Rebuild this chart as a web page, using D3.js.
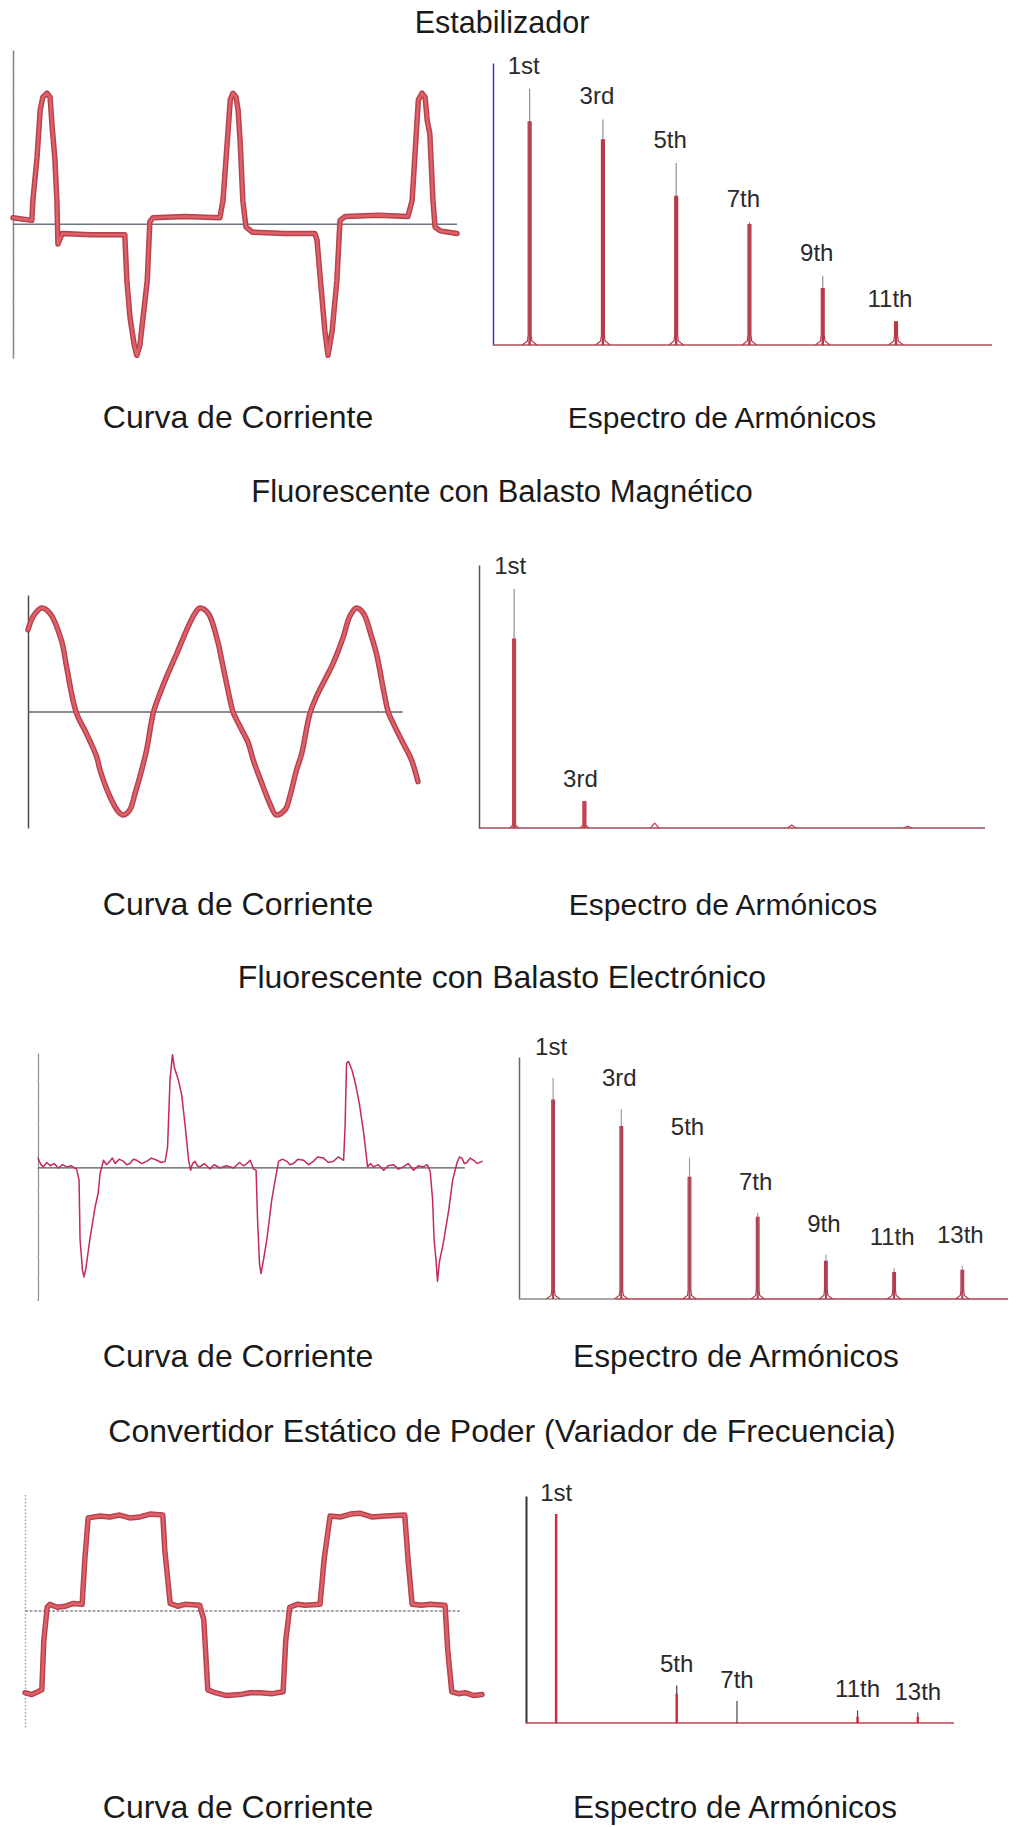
<!DOCTYPE html>
<html>
<head>
<meta charset="utf-8">
<script src="https://cdn.jsdelivr.net/npm/d3@7"></script>
<style>
  body { margin: 0; background: #fff; }
  svg { display: block; }
  text { font-family: "Liberation Sans", Arial, sans-serif; fill: #1a1a1a; }
  .hlabel { font-size: 24px; fill: #2a2a2a; }
</style>
</head>
<body>
<svg id="chart" width="1027" height="1827"></svg>
<script>

const titles = [
  'Estabilizador',
  'Fluorescente con Balasto Magnético',
  'Fluorescente con Balasto Electrónico',
  'Convertidor Estático de Poder (Variador de Frecuencia)'
];
const curveCaption = 'Curva de Corriente';
const spectrumCaption = 'Espectro de Armónicos';

// current waveforms: [electrical degrees, current per unit of peak]
const estabWave = [
  [0,0.05],[36,0.03],[38,0.18],[46,0.51],[52,0.87],[57,0.97],[65,1.00],[71,0.97],[75,0.74],
  [80,0.51],[84,0.18],[86,-0.15],[94,-0.07],[150,-0.08],[214,-0.08],[218,-0.43],[224,-0.71],
  [232,-0.92],[237,-1.00],[243,-0.92],[249,-0.71],[257,-0.43],[262,0.02],[268,0.05],[330,0.06],
  [396,0.05],[402,0.18],[410,0.62],[416,0.95],[421,1.00],[427,0.97],[431,0.87],[435,0.62],
  [440,0.18],[446,-0.02],[458,-0.06],[520,-0.07],[578,-0.07],[582,-0.12],[588,-0.40],[597,-0.81],
  [603,-1.00],[611,-0.81],[620,-0.43],[626,0.03],[636,0.06],[700,0.07],[756,0.06],[764,0.18],
  [770,0.56],[776,0.95],[783,1.00],[789,0.97],[793,0.79],[798,0.69],[804,0.18],[808,-0.02],
  [818,-0.05],[850,-0.07]
];

const magWave = [
  [0,0.79],[12,0.92],[31,1.00],[50,0.95],[77,0.68],[88,0.44],[110,0.00],[134,-0.21],[157,-0.43],
  [165,-0.56],[187,-0.81],[207,-0.96],[218,-0.99],[233,-0.94],[245,-0.78],[256,-0.62],[271,-0.37],
  [287,0.00],[302,0.18],[317,0.34],[340,0.56],[363,0.79],[382,0.95],[393,1.00],[412,0.95],
  [435,0.66],[443,0.50],[462,0.12],[469,0.00],[485,-0.14],[504,-0.30],[515,-0.46],[538,-0.72],
  [553,-0.88],[568,-0.99],[588,-0.94],[599,-0.81],[614,-0.56],[626,-0.40],[645,-0.01],[660,0.15],
  [679,0.31],[698,0.47],[721,0.72],[736,0.92],[751,1.00],[767,0.95],[786,0.72],[797,0.56],
  [816,0.15],[824,0.00],[839,-0.14],[858,-0.30],[877,-0.46],[892,-0.67]
];

const elecWave = [
  [0,0.09],[6,0.03],[11,0.01],[18,0.05],[25,0.02],[33,0.04],[42,0.00],[50,0.03],[59,0.01],
  [68,0.02],[79,-0.01],[84,-0.11],[86,-0.65],[91,-0.93],[94,-0.99],[98,-0.91],[106,-0.65],
  [117,-0.35],[123,-0.23],[127,-0.05],[134,0.07],[140,0.03],[147,0.06],[152,0.09],[158,0.04],
  [166,0.08],[175,0.06],[181,0.03],[188,0.04],[195,0.08],[202,0.07],[212,0.04],[222,0.06],
  [232,0.09],[243,0.07],[252,0.05],[260,0.06],[265,0.19],[270,0.80],[275,1.03],[279,0.91],
  [287,0.80],[294,0.66],[301,0.38],[308,0.07],[312,-0.02],[316,0.04],[321,0.06],[326,0.02],
  [331,0.01],[340,0.04],[352,-0.01],[360,0.03],[372,0.00],[385,0.02],[400,0.00],[412,0.05],
  [420,0.02],[427,0.04],[434,0.07],[441,-0.01],[446,-0.02],[449,-0.47],[453,-0.87],[456,-0.96],
  [461,-0.84],[468,-0.65],[478,-0.29],[485,-0.11],[492,0.06],[500,0.08],[509,0.06],[515,0.03],
  [522,0.04],[532,0.08],[543,0.07],[553,0.03],[563,0.06],[572,0.10],[584,0.09],[594,0.05],
  [604,0.06],[614,0.10],[625,0.07],[628,0.38],[631,0.95],[635,0.97],[642,0.89],[649,0.77],
  [657,0.59],[666,0.32],[674,0.01],[680,0.04],[686,0.01],[696,0.03],[707,-0.02],[716,0.02],
  [727,0.03],[737,-0.01],[747,0.01],[757,0.04],[768,-0.02],[778,0.02],[788,0.01],[796,0.03],
  [802,-0.03],[807,-0.29],[810,-0.65],[814,-0.84],[817,-1.03],[821,-0.85],[829,-0.68],
  [840,-0.38],[848,-0.11],[857,0.05],[862,0.10],[867,0.09],[872,0.04],[877,0.05],[884,0.09],
  [891,0.07],[898,0.04],[908,0.06]
];

const convWave = [
  [0,-0.86],[10,-0.88],[19,-0.85],[25,-0.83],[28,-0.31],[33,0.04],[37,0.07],[48,0.04],[60,0.05],
  [72,0.08],[85,0.07],[89,0.54],[94,0.98],[112,1.00],[126,0.99],[141,1.01],[156,0.98],[171,0.99],
  [186,1.02],[205,1.01],[208,0.64],[216,0.08],[227,0.05],[238,0.07],[260,0.06],[266,-0.09],
  [272,-0.83],[283,-0.86],[300,-0.89],[320,-0.88],[335,-0.86],[350,-0.86],[368,-0.87],[384,-0.85],
  [388,-0.31],[394,0.04],[405,0.07],[417,0.06],[439,0.07],[445,0.54],[454,1.00],[470,0.99],
  [484,1.02],[498,1.03],[516,0.99],[536,1.00],[565,1.01],[570,0.54],[576,0.07],[590,0.06],
  [603,0.07],[625,0.06],[629,-0.41],[635,-0.85],[645,-0.87],[655,-0.86],[668,-0.89],[680,-0.88]
];

// harmonic spectra: order, peak (% of fundamental), height of the red body, label
const estabOrders = [1, 3, 5, 7, 9, 11];
const estabPeak = [100, 88, 71, 48, 27, 9];
const estabRed = [87, 80, 58, 47, 22, 9];
const estabLabels = ['1st', '3rd', '5th', '7th', '9th', '11th'];

const magOrders = [1, 3];
const magPeak = [100, 11];
const magRed = [79, 11];
const magLabels = ['1st', '3rd'];
const magMinorOrders = [5, 8.9, 12.2];
const magMinorPeak = [2, 1.3, 0.8];

const elecOrders = [1, 3, 5, 7, 9, 11, 13];
const elecPeak = [100, 86, 64, 39, 20, 14, 15];
const elecRed = [90, 78, 55, 37, 17, 12, 13];
const elecLabels = ['1st', '3rd', '5th', '7th', '9th', '11th', '13th'];

const convOrders = [1, 5, 7, 11, 13];
const convPeak = [100, 18, 10.5, 6, 5];
const convRed = [100, 14, 0, 3, 3];
const convLabels = ['1st', '5th', '7th', '11th', '13th'];


const svg = d3.select('#chart');

class CurrentCurve {

  constructor(_config, _data) {
    this.config = _config;
    this.data = _data;
    this.initVis();
  }

  initVis() {
    let vis = this;
    const c = vis.config;

    vis.g = svg.append('g').attr('class', 'curve');

    vis.xScale = d3.scaleLinear().domain(c.xDomain).range(c.xRange);
    vis.yScale = d3.scaleLinear().domain(c.yDomain).range(c.yRange);

    // scope style vertical axis, no labels
    vis.yAxis = d3.axisLeft(vis.yScale)
      .tickSize(c.tickSize)
      .tickSizeOuter(0)
      .tickFormat('');
    if (c.tickSize > 0) vis.yAxis.ticks(c.ticks);
    else vis.yAxis.tickValues([]);

    vis.axisGroup = vis.g.append('g')
      .attr('transform', `translate(${c.xRange[0]},0)`)
      .call(vis.yAxis);
    vis.axisGroup.select('.domain')
      .attr('stroke', c.axisColor)
      .attr('stroke-width', c.axisWidth)
      .attr('stroke-dasharray', c.axisDash || null);
    vis.axisGroup.selectAll('.tick line')
      .attr('stroke', c.tickColor || c.axisColor)
      .attr('transform', 'translate(1,0)');

    vis.g.append('line')
      .attr('x1', vis.xScale(0))
      .attr('x2', vis.xScale(c.zeroTo))
      .attr('y1', vis.yScale(0))
      .attr('y2', vis.yScale(0))
      .attr('stroke', c.zeroColor)
      .attr('stroke-width', c.zeroWidth)
      .attr('stroke-dasharray', c.zeroDash || null);

    vis.line = d3.line()
      .x(d => vis.xScale(d[0]))
      .y(d => vis.yScale(d[1]))
      .curve(c.curve);

    vis.g.selectAll('.trace')
      .data(c.strokes)
      .join('path')
      .attr('class', 'trace')
      .attr('d', vis.line(vis.data))
      .attr('fill', 'none')
      .attr('stroke', s => s.color)
      .attr('stroke-width', s => s.width)
      .attr('stroke-linejoin', 'round')
      .attr('stroke-linecap', 'round');
  }
}

class HarmonicSpectrum {

  constructor(_config, _orders, _peak, _red, _labels) {
    this.config = _config;
    this.data = _orders.map((h, i) => ({h: h, peak: _peak[i], red: _red[i], label: _labels[i]}));
    this.initVis();
  }

  initVis() {
    let vis = this;
    const c = vis.config;

    vis.g = svg.append('g').attr('class', 'spectrum');

    vis.xScale = d3.scaleLinear().domain(c.xDomain).range(c.xRange);
    vis.yScale = d3.scaleLinear().domain(c.yDomain).range(c.yRange);

    vis.yAxis = d3.axisLeft(vis.yScale).tickValues([]).tickSizeOuter(0);
    vis.g.append('g')
      .attr('transform', `translate(${c.xRange[0]},0)`)
      .call(vis.yAxis)
      .select('.domain')
      .attr('stroke', c.axisColor)
      .attr('stroke-width', c.axisWidth);

    // baseline, optionally split in two colours
    c.baseSegments.forEach(seg => {
      vis.g.append('line')
        .attr('x1', vis.xScale(seg.from))
        .attr('x2', vis.xScale(seg.to))
        .attr('y1', vis.yScale(0))
        .attr('y2', vis.yScale(0))
        .attr('stroke', seg.color)
        .attr('stroke-width', c.baseWidth);
    });

    let line = d3.line().x(d => vis.xScale(d[0])).y(d => vis.yScale(d[1]));

    // thin tip of each spike
    vis.g.selectAll('.tip')
      .data(vis.data)
      .join('line')
      .attr('class', 'tip')
      .attr('x1', d => vis.xScale(d.h))
      .attr('x2', d => vis.xScale(d.h))
      .attr('y1', vis.yScale(0))
      .attr('y2', d => vis.yScale(d.peak))
      .attr('stroke', c.tipColor)
      .attr('stroke-width', 1.2);

    // flared foot
    if (c.skirt > 0) {
      vis.g.selectAll('.skirt')
        .data(vis.data)
        .join('path')
        .attr('class', 'skirt')
        .attr('d', d => line([
          [d.h - c.skirt, 0], [d.h - c.skirt * 0.3, c.skirtH * 0.4], [d.h - 0.04, c.skirtH],
          [d.h - 0.04, d.red], [d.h + 0.04, d.red], [d.h + 0.04, c.skirtH],
          [d.h + c.skirt * 0.3, c.skirtH * 0.4], [d.h + c.skirt, 0]
        ]))
        .attr('fill', 'none')
        .attr('stroke', c.redColor)
        .attr('stroke-width', 1.2);
    }

    // red body
    vis.g.selectAll('.body')
      .data(vis.data.filter(d => d.red > 0))
      .join('line')
      .attr('class', 'body')
      .attr('x1', d => vis.xScale(d.h))
      .attr('x2', d => vis.xScale(d.h))
      .attr('y1', vis.yScale(0))
      .attr('y2', d => vis.yScale(d.red))
      .attr('stroke', c.redColor)
      .attr('stroke-width', c.bodyWidth);

    vis.g.selectAll('.hlabel')
      .data(vis.data)
      .join('text')
      .attr('class', 'hlabel')
      .attr('text-anchor', 'middle')
      .attr('x', d => vis.xScale(d.h) + c.labelDx)
      .attr('y', d => vis.yScale(d.peak) - c.labelGap)
      .text(d => d.label);
  }

  addMinor(orders, peaks) {
    let vis = this;
    let line = d3.line().x(d => vis.xScale(d[0])).y(d => vis.yScale(d[1]));
    vis.g.selectAll('.minor')
      .data(orders.map((h, i) => ({h: h, peak: peaks[i]})))
      .join('path')
      .attr('class', 'minor')
      .attr('d', d => line([[d.h - 0.12, 0], [d.h, d.peak], [d.h + 0.12, 0]]))
      .attr('fill', 'none')
      .attr('stroke', vis.config.redColor)
      .attr('stroke-width', 1.2);
  }
}

const thickTrace = [{color: '#b4434c', width: 5.5}, {color: '#e0606a', width: 2.6}];

new CurrentCurve({
  xDomain: [0, 850], xRange: [13, 457], yDomain: [-1.02, 1.33], yRange: [358, 50],
  ticks: 12, tickSize: 2, axisColor: '#80828e', tickColor: '#b0b2ba', axisWidth: 1.5,
  zeroTo: 850, zeroColor: '#6d7583', zeroWidth: 1.5,
  curve: d3.curveLinear, strokes: thickTrace
}, estabWave);

new CurrentCurve({
  xDomain: [0, 892], xRange: [28, 418], yDomain: [-1.115, 1.125], yRange: [828, 595],
  ticks: 0, tickSize: 0, axisColor: '#4a4a4a', axisWidth: 1.5,
  zeroTo: 857, zeroColor: '#666', zeroWidth: 1.5,
  curve: d3.curveCatmullRom, strokes: thickTrace
}, magWave);

new CurrentCurve({
  xDomain: [0, 908], xRange: [38, 482], yDomain: [-1.2, 1.045], yRange: [1300, 1053],
  ticks: 12, tickSize: 2, axisColor: '#8a8a8a', tickColor: '#b8b8b8', axisWidth: 1.2,
  zeroTo: 873, zeroColor: '#555', zeroWidth: 1.3,
  curve: d3.curveLinear, strokes: [{color: '#c42a55', width: 1.5}]
}, elecWave);

new CurrentCurve({
  xDomain: [0, 680], xRange: [25, 482], yDomain: [-1.221, 1.242], yRange: [1727, 1493],
  ticks: 0, tickSize: 0, axisColor: '#98a0c8', axisWidth: 1.5, axisDash: '1.5,2',
  zeroTo: 647, zeroColor: '#8a8c98', zeroWidth: 1.5, zeroDash: '3,1.5',
  curve: d3.curveLinear, strokes: thickTrace
}, convWave);

new HarmonicSpectrum({
  xDomain: [0, 13.62], xRange: [493, 992], yDomain: [0, 110], yRange: [345, 63],
  axisColor: '#3b3bc4', axisWidth: 1.5, baseWidth: 1.5,
  baseSegments: [{from: 0, to: 13.62, color: '#a8505a'}],
  redColor: '#b83848', tipColor: '#909090', bodyWidth: 2.5, skirt: 0.2, skirtH: 4,
  labelGap: 15, labelDx: -6
}, estabOrders, estabPeak, estabRed, estabLabels);

const magSpectrum = new HarmonicSpectrum({
  xDomain: [0, 14.4], xRange: [479, 985], yDomain: [0, 110], yRange: [828, 565],
  axisColor: '#555', axisWidth: 1.5, baseWidth: 1.3,
  baseSegments: [{from: 0, to: 14.4, color: '#a04858'}],
  redColor: '#c24050', tipColor: '#909090', bodyWidth: 3.5, skirt: 0.13, skirtH: 3,
  labelGap: 15, labelDx: -4
}, magOrders, magPeak, magRed, magLabels);
magSpectrum.addMinor(magMinorOrders, magMinorPeak);

new HarmonicSpectrum({
  xDomain: [0, 14.34], xRange: [519, 1008], yDomain: [0, 109.5], yRange: [1299, 1057],
  axisColor: '#666', axisWidth: 1.5, baseWidth: 1.5,
  baseSegments: [{from: 0, to: 2.85, color: '#8c8c8c'}, {from: 2.85, to: 14.34, color: '#a84050'}],
  redColor: '#b03c50', tipColor: '#a0a0a0', bodyWidth: 2, skirt: 0.2, skirtH: 4,
  labelGap: 23, labelDx: -2
}, elecOrders, elecPeak, elecRed, elecLabels);

new HarmonicSpectrum({
  xDomain: [0, 14.2], xRange: [526, 954], yDomain: [0, 108.6], yRange: [1723, 1496],
  axisColor: '#333', axisWidth: 2, baseWidth: 1.5,
  baseSegments: [{from: 0, to: 14.2, color: '#c04050'}],
  redColor: '#c8303c', tipColor: '#444', bodyWidth: 2.5, skirt: 0, skirtH: 0,
  labelGap: 13, labelDx: 0
}, convOrders, convPeak, convRed, convLabels);

// titles and captions
const titleY = [33, 502, 988, 1442];
const titleSize = [30.5, 31, 32, 32];
const captionY = [428, 915, 1367, 1818];
const spectrumCaptionX = [722, 723, 736, 735];
const spectrumCaptionSize = [30, 30, 31.7, 31.5];

svg.selectAll('.title')
  .data(titles)
  .join('text')
  .attr('class', 'title')
  .attr('text-anchor', 'middle')
  .attr('x', 502)
  .attr('y', (d, i) => titleY[i])
  .style('font-size', (d, i) => titleSize[i] + 'px')
  .text(d => d);

svg.selectAll('.caption-curve')
  .data(captionY)
  .join('text')
  .attr('class', 'caption-curve')
  .attr('text-anchor', 'middle')
  .attr('x', 238)
  .attr('y', d => d)
  .style('font-size', '32px')
  .text(curveCaption);

svg.selectAll('.caption-spectrum')
  .data(captionY)
  .join('text')
  .attr('class', 'caption-spectrum')
  .attr('text-anchor', 'middle')
  .attr('x', (d, i) => spectrumCaptionX[i])
  .attr('y', d => d)
  .style('font-size', (d, i) => spectrumCaptionSize[i] + 'px')
  .text(spectrumCaption);

</script>
</body>
</html>
